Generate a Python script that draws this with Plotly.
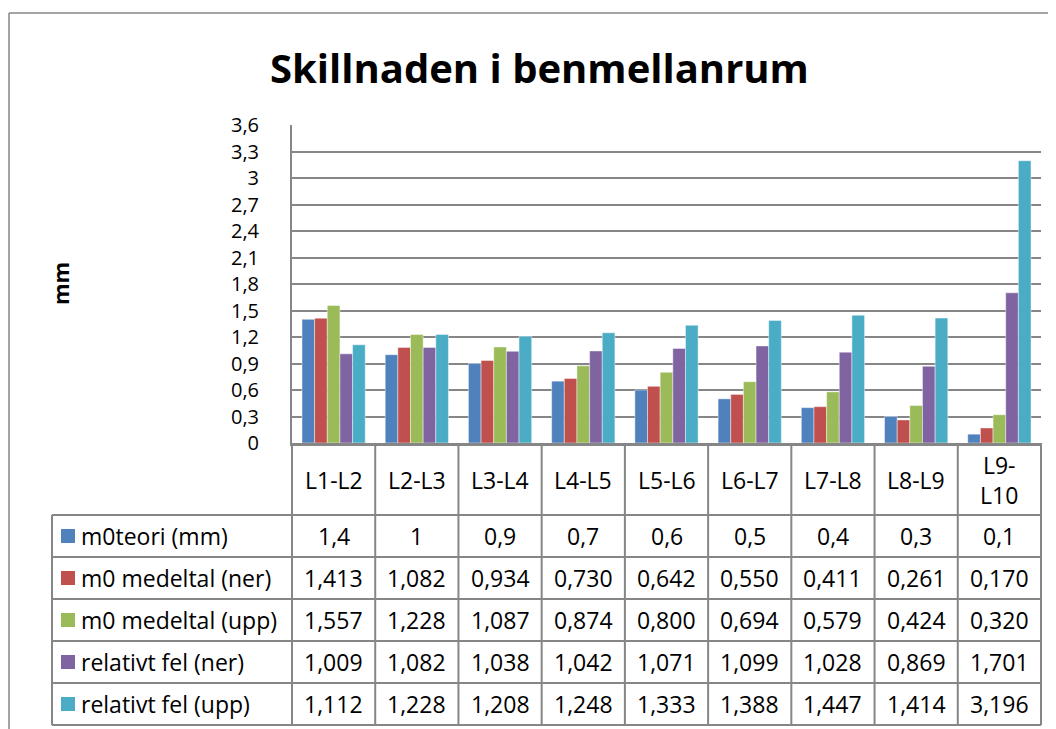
import plotly.graph_objects as go

categories = ["L1-L2", "L2-L3", "L3-L4", "L4-L5", "L5-L6", "L6-L7", "L7-L8", "L8-L9", "L9-L10"]
header_labels = ["L1-L2", "L2-L3", "L3-L4", "L4-L5", "L5-L6", "L6-L7", "L7-L8", "L8-L9", "L9-<br>L10"]

m0teori = [1.4, 1.0, 0.9, 0.7, 0.6, 0.5, 0.4, 0.3, 0.1]
m0_ner = [1.413, 1.082, 0.934, 0.730, 0.642, 0.550, 0.411, 0.261, 0.170]
m0_upp = [1.557, 1.228, 1.087, 0.874, 0.800, 0.694, 0.579, 0.424, 0.320]
rel_ner = [1.009, 1.082, 1.038, 1.042, 1.071, 1.099, 1.028, 0.869, 1.701]
rel_upp = [1.112, 1.228, 1.208, 1.248, 1.333, 1.388, 1.447, 1.414, 3.196]

series_names = ["m0teori (mm)", "m0 medeltal (ner)", "m0 medeltal (upp)", "relativt fel (ner)", "relativt fel (upp)"]
series_values = [m0teori, m0_ner, m0_upp, rel_ner, rel_upp]
series_colors = ["#4F81BD", "#C0504D", "#9BBB59", "#8064A2", "#4BACC6"]

y_ticks = [0, 0.3, 0.6, 0.9, 1.2, 1.5, 1.8, 2.1, 2.4, 2.7, 3.0, 3.3, 3.6]
y_ticktext = ["0", "0,3", "0,6", "0,9", "1,2", "1,5", "1,8", "2,1", "2,4", "2,7", "3", "3,3", "3,6"]

title_text = "Skillnaden i benmellanrum"
y_title = "mm"

# page offset (default body margin of the html page)
OFF = 8
W, H = 1056 - OFF, 729 - OFF
# screen coordinates of the plot area
PL, PR, PT, PB = 292, 1041, 125, 443
FONT = "Open Sans, Calibri, sans-serif"
FS = 23
GRID = "#868686"


def px(xs):
    return (xs - PL) / (PR - PL)


def py(ys):
    return (PB - ys) / (PB - PT)


def fmt(v, teori=False):
    s = ("%g" % v) if teori else ("%.3f" % v)
    return s.replace(".", ",")


fig = go.Figure()
for name, vals, col in zip(series_names, series_values, series_colors):
    fig.add_trace(go.Bar(x=categories, y=vals, name=name, marker_color=col,
                         marker_line_color="rgba(255,255,255,0.55)", marker_line_width=0.8,
                         showlegend=False))

shapes = []
annotations = []

# outer frame
shapes.append(dict(type="line", xref="paper", yref="paper", x0=px(9), x1=px(1070), y0=py(13), y1=py(13),
                   line=dict(color=GRID, width=1.5)))
shapes.append(dict(type="line", xref="paper", yref="paper", x0=px(9), x1=px(9), y0=py(13), y1=py(745),
                   line=dict(color=GRID, width=1.5)))

# table geometry
ncat = len(categories)
col_w = (PR - PL) / ncat
row_tops = [515, 557, 599, 641, 683]
row_h = 42
table_bottom = row_tops[-1] + row_h
legend_left = 52

for i in range(ncat + 1):
    xs = PL + i * col_w
    shapes.append(dict(type="line", xref="paper", yref="paper", x0=px(xs), x1=px(xs),
                       y0=py(PB), y1=py(table_bottom), line=dict(color=GRID, width=2)))
shapes.append(dict(type="line", xref="paper", yref="paper", x0=px(legend_left), x1=px(legend_left),
                   y0=py(row_tops[0]), y1=py(table_bottom), line=dict(color=GRID, width=2)))
for yt in row_tops + [table_bottom]:
    shapes.append(dict(type="line", xref="paper", yref="paper", x0=px(legend_left), x1=px(PR),
                       y0=py(yt), y1=py(yt), line=dict(color=GRID, width=2)))

for i, lab in enumerate(header_labels):
    xc = PL + (i + 0.5) * col_w
    annotations.append(dict(x=px(xc), y=py(480), xref="paper", yref="paper", text=lab,
                            showarrow=False, xanchor="center", yanchor="middle",
                            font=dict(family=FONT, size=FS, color="#000000")))

for r, (name, vals, col) in enumerate(zip(series_names, series_values, series_colors)):
    yc = row_tops[r] + row_h / 2
    shapes.append(dict(type="rect", xref="paper", yref="paper", x0=px(61), x1=px(75),
                       y0=py(yc - 7), y1=py(yc + 7), fillcolor=col, line=dict(width=0)))
    annotations.append(dict(x=px(79), y=py(yc), xref="paper", yref="paper", text=name,
                            showarrow=False, xanchor="left", yanchor="middle",
                            font=dict(family=FONT, size=FS, color="#000000")))
    for i, v in enumerate(vals):
        xc = PL + (i + 0.5) * col_w
        annotations.append(dict(x=px(xc), y=py(yc), xref="paper", yref="paper",
                                text=fmt(v, teori=(r == 0)),
                                showarrow=False, xanchor="center", yanchor="middle",
                                font=dict(family=FONT, size=FS, color="#000000")))

annotations.append(dict(x=px(60), y=py(284), xref="paper", yref="paper", text="<b>" + y_title + "</b>",
                        showarrow=False, textangle=-90, xanchor="center", yanchor="middle",
                        font=dict(family=FONT, size=22, color="#000000")))

annotations.append(dict(x=px(539), y=py(67), xref="paper", yref="paper", text="<b>" + title_text + "</b>",
                        showarrow=False, xanchor="center", yanchor="middle",
                        font=dict(family=FONT, size=40, color="#000000")))

fig.update_layout(
    width=W, height=H,
    margin=dict(l=PL - OFF, r=W - (PR - OFF), t=PT - OFF, b=H - (PB - OFF), pad=0),
    paper_bgcolor="white", plot_bgcolor="white",
    barmode="group", bargap=0.24, bargroupgap=0,
    xaxis=dict(showticklabels=False, ticks="", showgrid=False, showline=True, linecolor=GRID,
               linewidth=2.5, zeroline=False, fixedrange=True),
    yaxis=dict(range=[0, 3.6], tickvals=y_ticks, ticktext=y_ticktext, showgrid=True,
               gridcolor=GRID, gridwidth=2, showline=True, linecolor=GRID, linewidth=2,
               zeroline=False, ticks="", ticklabelstandoff=27,
               tickfont=dict(family=FONT, size=20, color="#000000")),
    shapes=shapes, annotations=annotations,
)

fig.write_html("out.html")
